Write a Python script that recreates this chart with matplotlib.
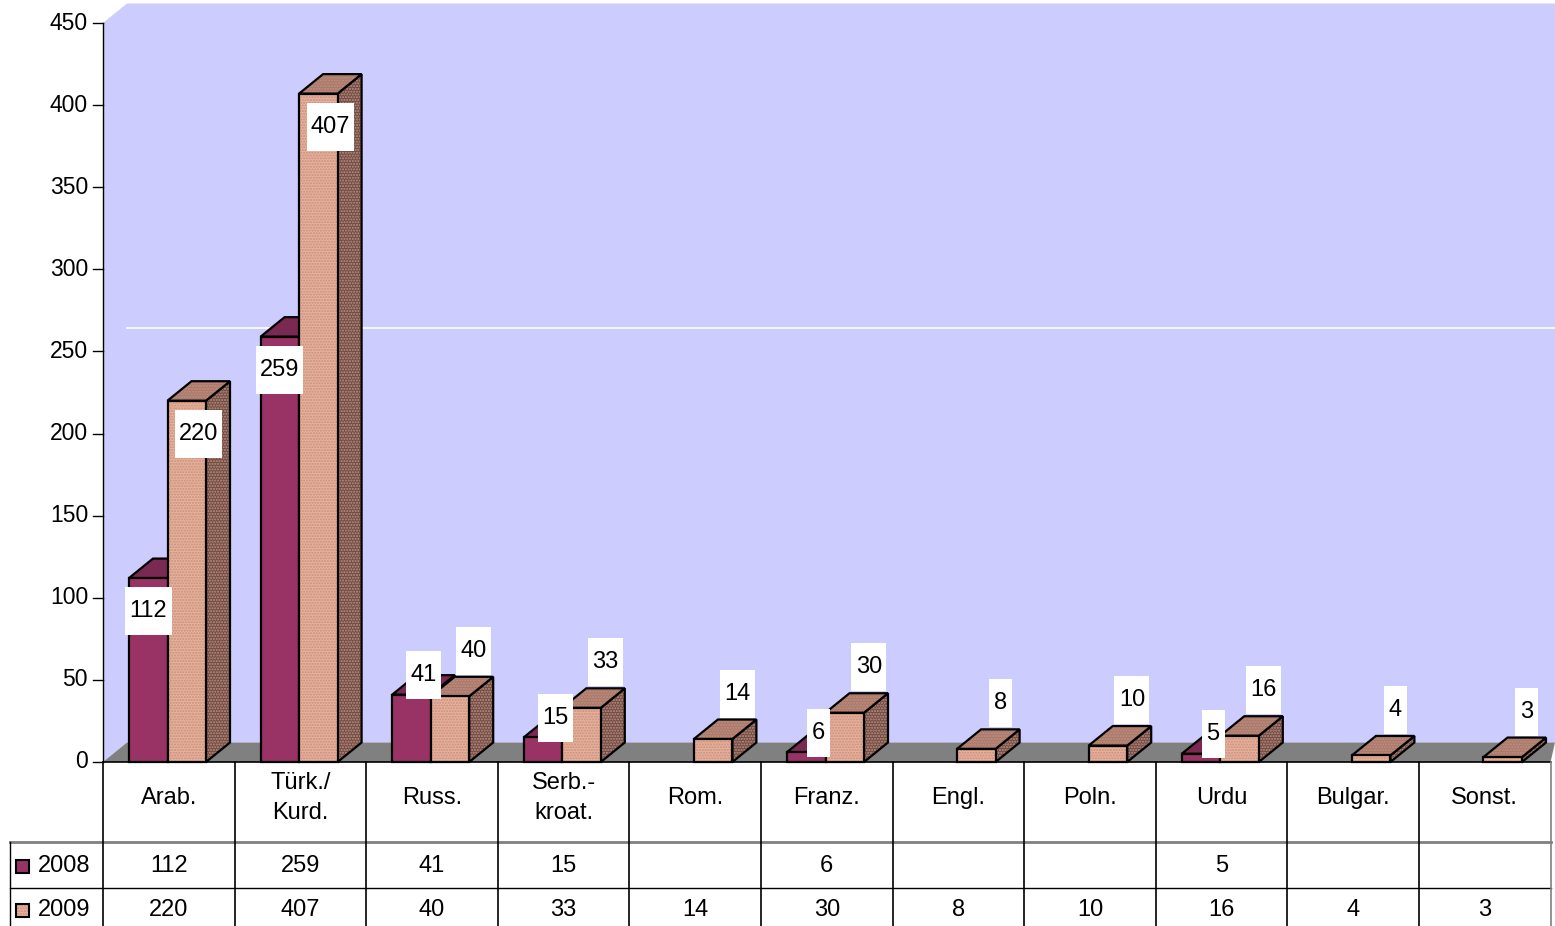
import matplotlib
matplotlib.use('Agg')
import matplotlib.pyplot as plt
from matplotlib.patches import Polygon, Rectangle

plt.rcParams['font.family'] = ['Liberation Sans', 'DejaVu Sans']

# chart data
categories = ['Arab.', 'Türk./\nKurd.', 'Russ.', 'Serb.-\nkroat.', 'Rom.', 'Franz.',
              'Engl.', 'Poln.', 'Urdu', 'Bulgar.', 'Sonst.']
years = ['2008', '2009']
values_2008 = [112, 259, 41, 15, None, 6, None, None, 5, None, None]
values_2009 = [220, 407, 40, 33, 14, 30, 8, 10, 16, 4, 3]
yticks = list(range(0, 451, 50))

# layout in pixels
W, H = 1555, 926
PX_X = 131.6          # pixels per category
PX_Y = 739 / 450.0    # pixels per value unit
X0, Y0 = 103, 762     # pixel position of the origin

def px(n):
    return n / PX_X

def py(n):
    return n / PX_Y

fig = plt.figure(figsize=(W / 100, H / 100), dpi=100)
ax = fig.add_axes([0, 0, 1, 1])
ax.set_xlim(-X0 / PX_X, (W - X0) / PX_X)
ax.set_ylim(-(H - Y0) / PX_Y, Y0 / PX_Y)
ax.axis('off')

ncat = len(categories)
dx, dy = px(24), py(19.5)
xend = ax.get_xlim()[1]
ymax = yticks[-1]

# walls and floor
ax.add_patch(Polygon([(0, 0), (0, ymax), (dx, ymax + dy), (xend, ymax + dy),
                      (xend, dy), (dx, dy)], closed=True, fc='#CCCCFF', ec='none', zorder=0))
ax.add_patch(Polygon([(0, 0), (dx, dy), (xend, dy), (ncat, 0)], closed=True,
                     fc='#808080', ec='none', zorder=1))
# thin light line on the back wall
ax.plot([dx, xend], [264, 264], color='white', lw=1.2, zorder=1)

# y axis
ax.plot([0, 0], [0, ymax], color='black', lw=1, zorder=2)
for t in yticks:
    ax.plot([-px(10), 0], [t, t], color='black', lw=1, zorder=2)
    ax.text(-px(15), t, str(t), ha='right', va='center', fontsize=16.5)

# bars
gap = px(26)
bw = px(38.5)
styles = {
    '2008': dict(front='#993366', top='#7A2952', side='#5E1F40', hatch=None),
    '2009': dict(front='#E6B494', top='#A57C66', side='#6B4F40', hatch='#C98A8A'),
}

def face(pts, fc, hc, z):
    if hc:
        ax.add_patch(Polygon(pts, closed=True, fc=fc, ec=hc, lw=0, hatch='......', zorder=z))
    else:
        ax.add_patch(Polygon(pts, closed=True, fc=fc, ec='none', zorder=z))
    ax.add_patch(Polygon(pts, closed=True, fill=False, ec='black', lw=1.6, zorder=z))

def draw_box(x0, v, st, z):
    x1 = x0 + bw
    hc = st['hatch']
    face([(x1, 0), (x1 + dx, dy), (x1 + dx, v + dy), (x1, v)], st['side'], hc, z)
    face([(x0, v), (x0 + dx, v + dy), (x1 + dx, v + dy), (x1, v)], st['top'], hc, z)
    face([(x0, 0), (x0, v), (x1, v), (x1, 0)], st['front'], hc, z)

def value_label(x, y, text):
    w = px(len(text) * 12 + 11)
    h = py(48)
    ax.add_patch(Rectangle((x - w / 2, y - h / 2), w, h, fc='white', ec='none', zorder=20))
    ax.text(x, y, text, ha='center', va='center', fontsize=17, zorder=21)

labels = []
for i in range(ncat):
    v8, v9 = values_2008[i], values_2009[i]
    xa = i + gap
    if v8 is not None:
        draw_box(xa, v8, styles['2008'], 3 + 2 * i)
        cx = xa + bw / 2
        if v8 > 100:
            labels.append((cx, v8 - py(33), str(v8)))
        else:
            labels.append((cx + dx / 2, v8 + dy, str(v8)))
    if v9 is not None:
        draw_box(xa + bw, v9, styles['2009'], 4 + 2 * i)
        cx = xa + bw * 1.5
        if v9 > 100:
            labels.append((cx + dx / 2, v9 - py(33), str(v9)))
        else:
            labels.append((cx + dx, v9 + dy + py(26), str(v9)))

for x, y, t in labels:
    value_label(x, y, t)

# data table
row1 = -py(80)
row2 = -py(126)
ybot = ax.get_ylim()[0]
xleft = -px(93)
ax.plot([0, ncat], [0, 0], color='black', lw=1.2, zorder=30)
ax.plot([xleft, ncat], [row1, row1], color='#808080', lw=2, zorder=30)
ax.plot([xleft, ncat], [row2, row2], color='black', lw=1, zorder=30)
for k in range(ncat + 1):
    ax.plot([k, k], [0, ybot], color='#808080' if k == ncat else 'black', lw=1.2, zorder=30)
ax.plot([xleft, xleft], [row1, ybot], color='black', lw=1, zorder=30)

for i, cat in enumerate(categories):
    ax.text(i + 0.5, -py(36), cat, ha='center', va='center', fontsize=17, linespacing=1.45)
    if values_2008[i] is not None:
        ax.text(i + 0.5, -py(104), str(values_2008[i]), ha='center', va='center', fontsize=17)
    if values_2009[i] is not None:
        ax.text(i + 0.5, -py(148), str(values_2009[i]), ha='center', va='center', fontsize=17)

for yr, yrow in zip(years, [-py(104), -py(148)]):
    st = styles[yr]
    if st['hatch']:
        ax.add_patch(Rectangle((-px(87), yrow - py(6.5)), px(13), py(13), fc=st['front'],
                               ec=st['hatch'], lw=0, hatch='......', zorder=31))
    ax.add_patch(Rectangle((-px(87), yrow - py(6.5)), px(13), py(13), fc=st['front'] if not st['hatch'] else 'none',
                           ec='black', lw=1.5, zorder=32))
    ax.text(-px(65), yrow, yr, ha='left', va='center', fontsize=17)

fig.savefig('out.png', dpi=100, facecolor='white')
